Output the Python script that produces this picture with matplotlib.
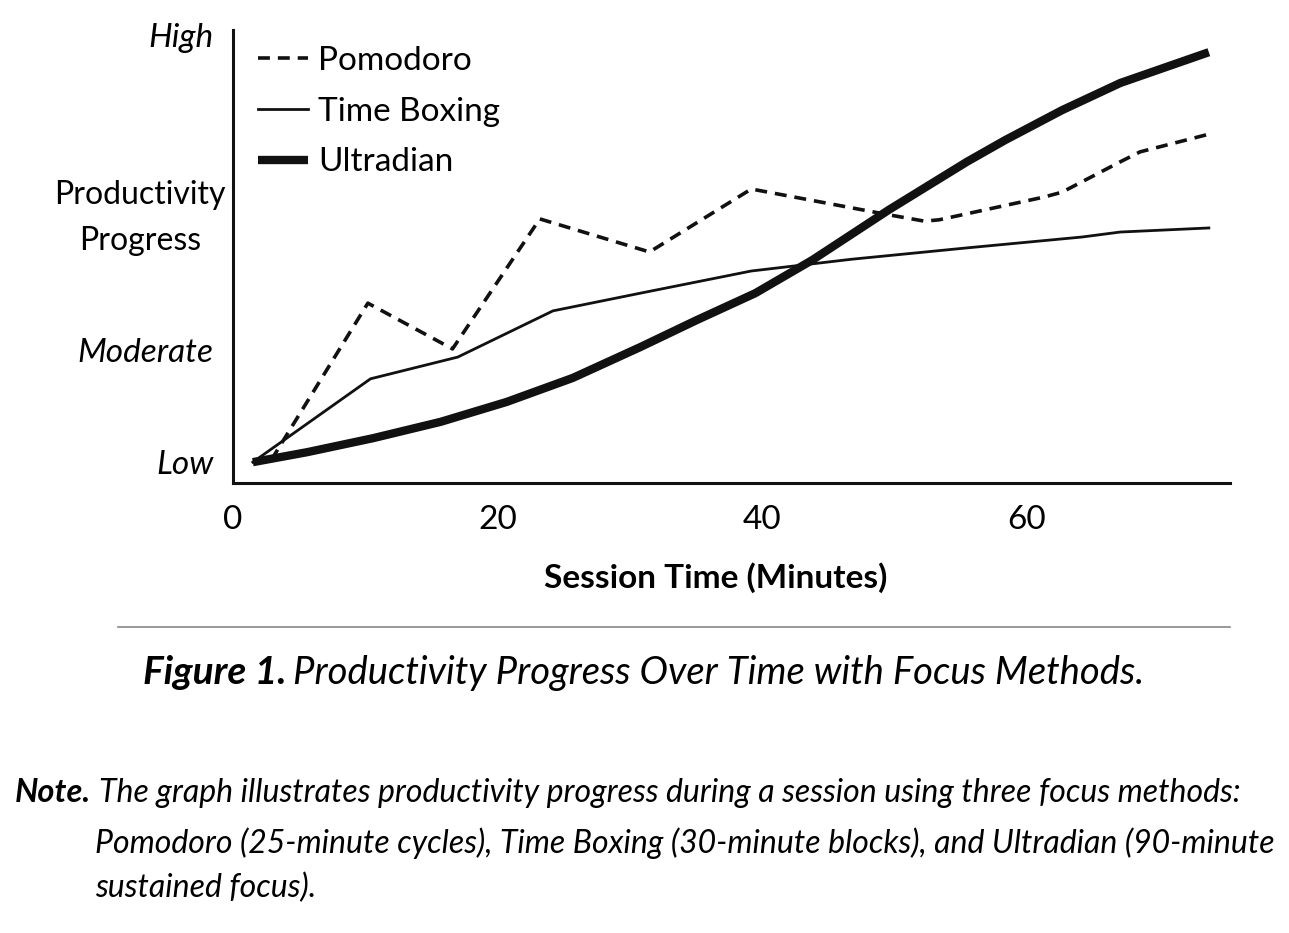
import matplotlib.pyplot as plt

plt.rcParams['font.family'] = ['Lato', 'DejaVu Sans']

# session time (minutes) and productivity progress (0 = low, 100 = high)
pomodoro_t = [2.9, 10.2, 16.6, 23.2, 31.5, 39.2, 49.6, 52.3, 53.4, 61.3, 62.7, 67.1, 68.6, 73.8]
pomodoro_v = [5.1, 39.7, 29.6, 58.3, 51.0, 64.9, 59.2, 57.8, 58.1, 63.1, 64.2, 70.9, 73.1, 77.0]

boxing_t = [1.5, 10.4, 17.0, 24.2, 30.8, 39.2, 46.8, 55.5, 64.2, 67.1, 73.8]
boxing_v = [4.6, 23.0, 27.8, 38.0, 41.9, 46.8, 49.4, 51.9, 54.3, 55.4, 56.3]

ultradian_t = [1.5, 5.6, 10.6, 15.7, 20.7, 25.7, 30.8, 35.1, 39.5, 43.8, 49.6, 55.5, 58.4, 62.7, 67.1, 73.8]
ultradian_v = [4.6, 6.8, 9.9, 13.5, 17.9, 23.2, 30.0, 36.0, 41.9, 49.2, 60.3, 70.9, 75.7, 82.3, 88.3, 95.1]

x_ticks = [0, 20, 40, 60]
y_ticks = [4.6, 29.4, 98.9]
y_labels = ['Low', 'Moderate', 'High']

W, H = 1289, 933
fig = plt.figure(figsize=(W / 100, H / 100), dpi=100)
ax = fig.add_axes([233 / W, 1 - 483 / H, (1230 - 233) / W, (483 - 30) / H])

ink = '#111111'
ax.plot(pomodoro_t, pomodoro_v, color=ink, lw=2.6, ls=(0, (3.3, 2.2)), label='Pomodoro')
ax.plot(boxing_t, boxing_v, color=ink, lw=2.0, label='Time Boxing')
ax.plot(ultradian_t, ultradian_v, color=ink, lw=6.0, solid_capstyle='butt',
        solid_joinstyle='round', label='Ultradian')

ax.set_xlim(0, 75.4)
ax.set_ylim(0, 100)
for s in ['top', 'right']:
    ax.spines[s].set_visible(False)
for s in ['left', 'bottom']:
    ax.spines[s].set_linewidth(2.2)
    ax.spines[s].set_color(ink)

ax.set_xticks(x_ticks)
ax.set_xticklabels([str(t) for t in x_ticks], fontsize=24)
ax.set_yticks(y_ticks)
ax.set_yticklabels(y_labels, fontsize=24, style='italic')
ax.tick_params(axis='x', length=0, pad=16)
ax.tick_params(axis='y', length=0, pad=14)

ax.legend(loc='upper left', bbox_to_anchor=(258 / W, 1 - 46 / H), bbox_transform=fig.transFigure,
          frameon=False, fontsize=24, handlelength=1.5, handletextpad=0.3,
          labelspacing=0.62, borderpad=0, borderaxespad=0)

fig.text(140 / W, 1 - 218 / H, 'Productivity\nProgress', fontsize=23, ha='center', va='center',
         multialignment='center', linespacing=1.7)
fig.text(716 / W, 1 - 578 / H, 'Session Time (Minutes)', fontsize=24, fontweight='bold',
         ha='center', va='center')

fig.add_artist(plt.Line2D([118 / W, 1230 / W], [1 - 627 / H, 1 - 627 / H], color='#888888', lw=1.2))

fig.text(143 / W, 1 - 673 / H, 'Figure 1.', fontsize=28, fontweight='bold', style='italic',
         ha='left', va='center')
fig.text(293 / W, 1 - 673 / H, 'Productivity Progress Over Time with Focus Methods.', fontsize=27.5,
         style='italic', ha='left', va='center')

fig.text(15 / W, 1 - 793 / H, 'Note.', fontsize=23.5, fontweight='bold', style='italic',
         ha='left', va='center')
fig.text(99 / W, 1 - 793 / H,
         'The graph illustrates productivity progress during a session using three focus methods:',
         fontsize=23, style='italic', ha='left', va='center')
fig.text(95 / W, 1 - 843 / H,
         'Pomodoro (25-minute cycles), Time Boxing (30-minute blocks), and Ultradian (90-minute',
         fontsize=23, style='italic', ha='left', va='center')
fig.text(95 / W, 1 - 888 / H, 'sustained focus).', fontsize=23, style='italic', ha='left', va='center')

fig.savefig('out.png', dpi=100, facecolor='white')
